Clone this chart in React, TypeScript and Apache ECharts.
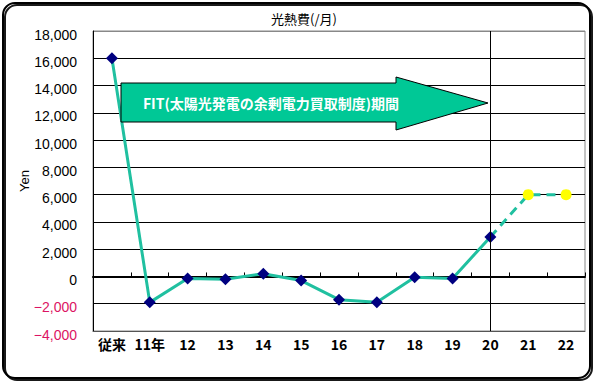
import React, { useEffect, useRef } from "react";
import * as echarts from "echarts";

const categories = ["従来", "11年", "12", "13", "14", "15", "16", "17", "18", "19", "20", "21", "22"];
const actualValues: (number | null)[] = [16000, -1900, -150, -200, 200, -300, -1700, -1900, -50, -150, 2900, null, null];
const forecastValues: (number | null)[] = [null, null, null, null, null, null, null, null, null, null, 2900, 6000, 6000];
const yMin = -4000;
const yMax = 18000;
const yInterval = 2000;
const titleText = "光熱費(/月)";
const yName = "Yen";
const arrowText = "FIT(太陽光発電の余剰電力買取制度)期間";
const markerCategory = "20";

export default function App() {
  const ref = useRef<HTMLDivElement>(null);
  useEffect(() => {
    document.body.style.margin = "0";
    if (!ref.current) return;
    const chart = echarts.init(ref.current, undefined, { renderer: "svg" });
    const splitColors: string[] = [];
    for (let v = yMin; v <= yMax; v += yInterval) splitColors.push(v === yMax ? "#888888" : "#000000");
    chart.setOption({
      animation: false,
      backgroundColor: "#ffffff",
      title: {
        text: titleText,
        left: 299,
        top: 7,
        textAlign: "center",
        textStyle: { fontSize: 13, fontWeight: "normal", color: "#000", fontFamily: "Noto Sans CJK JP" },
      },
      grid: { left: 93, right: 12, top: 31, bottom: 52, show: true, borderColor: "#888888", borderWidth: 1 },
      xAxis: [
        {
          type: "category",
          data: categories,
          boundaryGap: true,
          position: "bottom",
          axisLine: { onZero: false, lineStyle: { color: "#555", width: 1 } },
          axisTick: { show: false },
          axisLabel: {
            interval: 0,
            color: "#000",
            fontSize: 14,
            fontWeight: "bold",
            fontFamily: "Noto Sans CJK JP",
            margin: 6,
          },
        },
        {
          type: "category",
          data: categories,
          boundaryGap: true,
          position: "top",
          axisLine: { onZero: true, lineStyle: { color: "#000", width: 2 } },
          axisTick: { show: true, interval: 0, inside: false, length: 4, lineStyle: { color: "#000", width: 1 } },
          axisLabel: { show: false },
        },
      ],
      yAxis: {
        type: "value",
        min: yMin,
        max: yMax,
        interval: yInterval,
        name: yName,
        nameLocation: "middle",
        nameGap: 62,
        nameMoveOverlap: false,
        nameRotate: 90,
        nameTextStyle: { color: "#000", fontSize: 13, fontFamily: "Liberation Sans" },
        axisLine: { show: true, lineStyle: { color: "#000", width: 1 } },
        axisTick: { show: false },
        splitLine: { show: true, lineStyle: { color: splitColors, width: 1 } },
        axisLabel: {
          margin: 16,
          fontSize: 14,
          fontFamily: "Liberation Sans",
          padding: [7, 0, 0, 0],
          formatter: (v: number) => (v < 0 ? "{neg|" + "−" + Math.abs(v).toLocaleString("en-US") + "}" : v.toLocaleString("en-US")),
          color: "#000",
          rich: { neg: { color: "#dc1463", fontSize: 14, fontFamily: "Liberation Sans" } },
        },
      },
      series: [
        {
          type: "line",
          xAxisIndex: 0,
          data: forecastValues.map((v, i) => (i === 10 ? { value: v, symbol: "none" } : v)),
          symbol: "circle",
          symbolSize: 11,
          itemStyle: { color: "#ffff00" },
          lineStyle: { color: "#20c0a0", width: 3, type: [9, 6] },
          connectNulls: false,
          z: 2,
        },
        {
          type: "line",
          xAxisIndex: 0,
          data: actualValues,
          symbol: "diamond",
          symbolSize: 12,
          itemStyle: { color: "#000080" },
          lineStyle: { color: "#20c0a0", width: 3 },
          z: 3,
          markLine: {
            silent: true,
            symbol: "none",
            label: { show: false },
            lineStyle: { color: "#000", width: 1, type: "solid" },
            data: [{ xAxis: markerCategory }],
          },
        },
      ],
      graphic: [
        {
          type: "polygon",
          shape: {
            points: [
              [121, 83],
              [396, 83],
              [396, 77],
              [488, 103],
              [396, 130],
              [396, 122],
              [121, 122],
            ],
          },
          style: { fill: "#00c896", stroke: "#000", lineWidth: 1 },
          z: 10,
        },
        {
          type: "text",
          x: 271,
          y: 103,
          style: {
            text: arrowText,
            fill: "#fff",
            fontSize: 14,
            fontWeight: "bold",
            fontFamily: "Noto Sans CJK JP",
            align: "center",
            verticalAlign: "middle",
          },
          z: 11,
        },
        {
          type: "rect",
          shape: { x: 3, y: 3, width: 587, height: 375, r: 12 },
          style: { fill: "none", stroke: "#000", lineWidth: 2, shadowColor: "rgba(0,0,0,0.9)", shadowOffsetX: 2, shadowOffsetY: 2, shadowBlur: 0 },
          z: 20,
          silent: true,
        },
      ],
    });
    return () => chart.dispose();
  }, []);
  return <div ref={ref} style={{ width: 597, height: 383 }} />;
}
